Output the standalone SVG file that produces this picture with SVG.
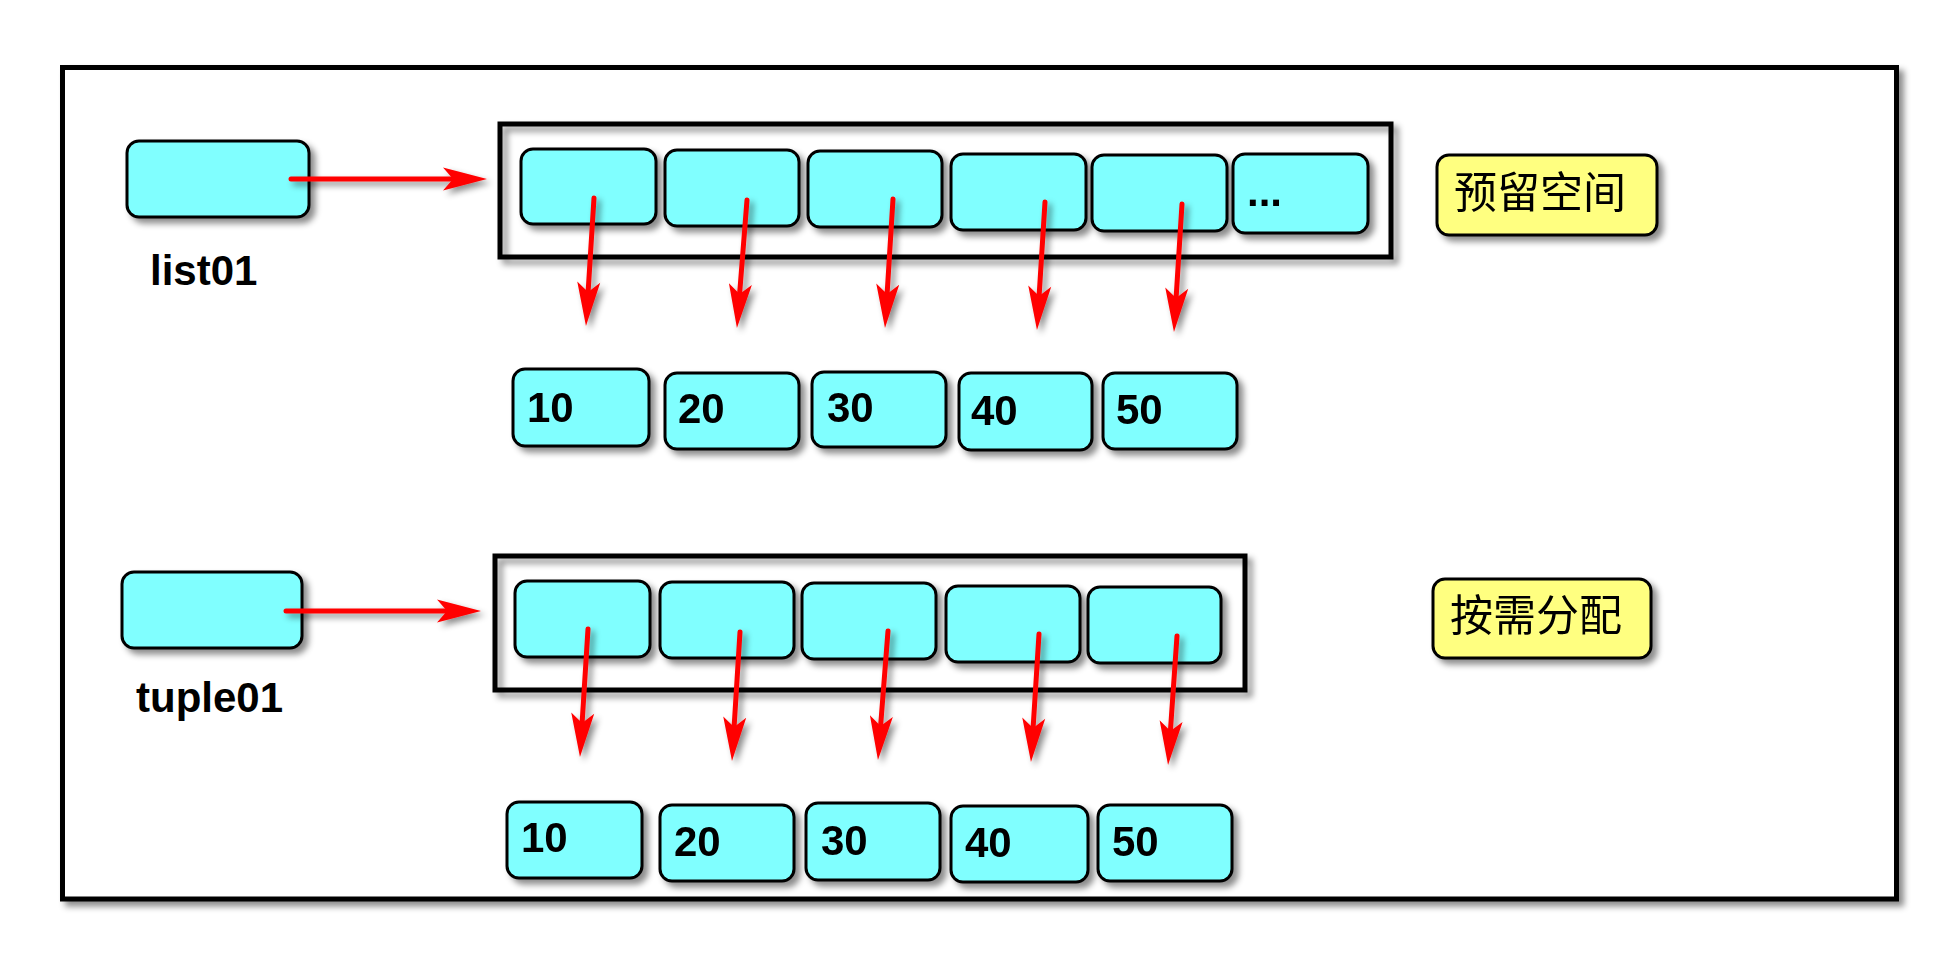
<svg xmlns="http://www.w3.org/2000/svg" width="1940" height="958" viewBox="0 0 1940 958">
<defs>
<style>
.frame{fill:#fff;stroke:#000;stroke-width:5}
.box{fill:none;stroke:#000;stroke-width:5}
.cell{fill:#80FFFF;stroke:#000;stroke-width:3}
.note{fill:#FFFF80;stroke:#000;stroke-width:3}
.lbl{font-family:"Liberation Sans",Arial,sans-serif;font-weight:bold;font-size:42px;fill:#000}
.cjk{font-family:"Noto Sans CJK SC","Noto Sans CJK JP",sans-serif;font-size:43px;fill:#000}
.arr{stroke:#FF0000;stroke-width:5;fill:none;stroke-linecap:round;marker-end:url(#ah)}
</style>
<filter id="sh" x="-10%" y="-10%" width="130%" height="140%">
<feDropShadow dx="5" dy="5" stdDeviation="3" flood-color="#000" flood-opacity="0.45"/>
</filter>
<filter id="sha" x="-50%" y="-20%" width="200%" height="150%">
<feDropShadow dx="4" dy="4" stdDeviation="3" flood-color="#000" flood-opacity="0.45"/>
</filter>
<marker id="ah" markerUnits="userSpaceOnUse" viewBox="-1 -12 46 24" refX="10" refY="0" markerWidth="46" markerHeight="24" orient="auto">
<path d="M0,-11.5 L44,0 L0,11.5 L10,0 Z" fill="#FF0000"/>
</marker>
</defs>
<g id="frame" filter="url(#sh)"><rect class="frame" x="62.5" y="67.5" width="1834" height="831.5"/></g>

<g id="list-array" filter="url(#sh)"><rect class="box" x="500" y="124" width="891" height="133"/></g>
<g id="tuple-array" filter="url(#sh)"><rect class="box" x="495" y="556" width="750" height="134"/></g>

<g id="list01" filter="url(#sh)"><rect class="cell" x="127" y="141" width="182" height="76" rx="12"/></g>
<g id="list01-label"><text class="lbl" x="150" y="285">list01</text></g>
<g id="tuple01" filter="url(#sh)"><rect class="cell" x="122" y="572" width="180" height="76" rx="12"/></g>
<g id="tuple01-label"><text class="lbl" x="136" y="712">tuple01</text></g>

<g id="list-cells" filter="url(#sh)">
<g id="lc1"><rect class="cell" x="521" y="149" width="135" height="75" rx="12"/></g>
<g id="lc2"><rect class="cell" x="665" y="150" width="134" height="76" rx="12"/></g>
<g id="lc3"><rect class="cell" x="808" y="151" width="134" height="76" rx="12"/></g>
<g id="lc4"><rect class="cell" x="951" y="154" width="135" height="76" rx="12"/></g>
<g id="lc5"><rect class="cell" x="1092" y="155" width="135" height="76" rx="12"/></g>
<g id="lc6"><rect class="cell" x="1233" y="154" width="135" height="79" rx="12"/><text class="lbl" x="1247" y="206">...</text></g>
</g>

<g id="list-values" filter="url(#sh)">
<g id="lv10"><rect class="cell" x="513" y="369" width="136" height="77" rx="12"/><text class="lbl" x="527" y="422">10</text></g>
<g id="lv20"><rect class="cell" x="665" y="373" width="134" height="76" rx="12"/><text class="lbl" x="678" y="423">20</text></g>
<g id="lv30"><rect class="cell" x="812" y="372" width="134" height="75" rx="12"/><text class="lbl" x="827" y="422">30</text></g>
<g id="lv40"><rect class="cell" x="959" y="373" width="133" height="77" rx="12"/><text class="lbl" x="971" y="425">40</text></g>
<g id="lv50"><rect class="cell" x="1103" y="373" width="134" height="76" rx="12"/><text class="lbl" x="1116" y="424">50</text></g>
</g>

<g id="tuple-cells" filter="url(#sh)">
<g id="tc1"><rect class="cell" x="515" y="581" width="135" height="76" rx="12"/></g>
<g id="tc2"><rect class="cell" x="660" y="582" width="134" height="76" rx="12"/></g>
<g id="tc3"><rect class="cell" x="802" y="583" width="134" height="76" rx="12"/></g>
<g id="tc4"><rect class="cell" x="946" y="586" width="134" height="76" rx="12"/></g>
<g id="tc5"><rect class="cell" x="1088" y="587" width="133" height="76" rx="12"/></g>
</g>

<g id="tuple-values" filter="url(#sh)">
<g id="tv10"><rect class="cell" x="507" y="802" width="135" height="76" rx="12"/><text class="lbl" x="521" y="852">10</text></g>
<g id="tv20"><rect class="cell" x="660" y="805" width="134" height="76" rx="12"/><text class="lbl" x="674" y="856">20</text></g>
<g id="tv30"><rect class="cell" x="806" y="803" width="134" height="77" rx="12"/><text class="lbl" x="821" y="855">30</text></g>
<g id="tv40"><rect class="cell" x="951" y="806" width="137" height="76" rx="12"/><text class="lbl" x="965" y="857">40</text></g>
<g id="tv50"><rect class="cell" x="1098" y="805" width="134" height="76" rx="12"/><text class="lbl" x="1112" y="856">50</text></g>
</g>

<g id="note-reserve" filter="url(#sh)"><rect class="note" x="1437" y="155" width="220" height="80" rx="12"/><text class="cjk" x="1454" y="208">预留空间</text></g>
<g id="note-ondemand" filter="url(#sh)"><rect class="note" x="1433" y="579" width="218" height="79" rx="12"/><text class="cjk" x="1450" y="631">按需分配</text></g>

<g id="connectors" filter="url(#sha)">
<line class="arr" x1="291" y1="179" x2="453" y2="179"/>
<line class="arr" x1="594" y1="198" x2="588.1" y2="292.1"/>
<line class="arr" x1="747" y1="200" x2="739.6" y2="294.1"/>
<line class="arr" x1="893" y1="199" x2="887.1" y2="294.1"/>
<line class="arr" x1="1045" y1="202" x2="1039.1" y2="296.1"/>
<line class="arr" x1="1182" y1="204" x2="1176.1" y2="298.1"/>
<line class="arr" x1="286" y1="611" x2="447" y2="611"/>
<line class="arr" x1="588" y1="629" x2="582.1" y2="723.1"/>
<line class="arr" x1="740" y1="632" x2="734.1" y2="727.1"/>
<line class="arr" x1="888" y1="631" x2="880.6" y2="726.1"/>
<line class="arr" x1="1039" y1="634" x2="1033.1" y2="728.1"/>
<line class="arr" x1="1177" y1="636" x2="1170.4" y2="731.1"/>
</g>
</svg>
